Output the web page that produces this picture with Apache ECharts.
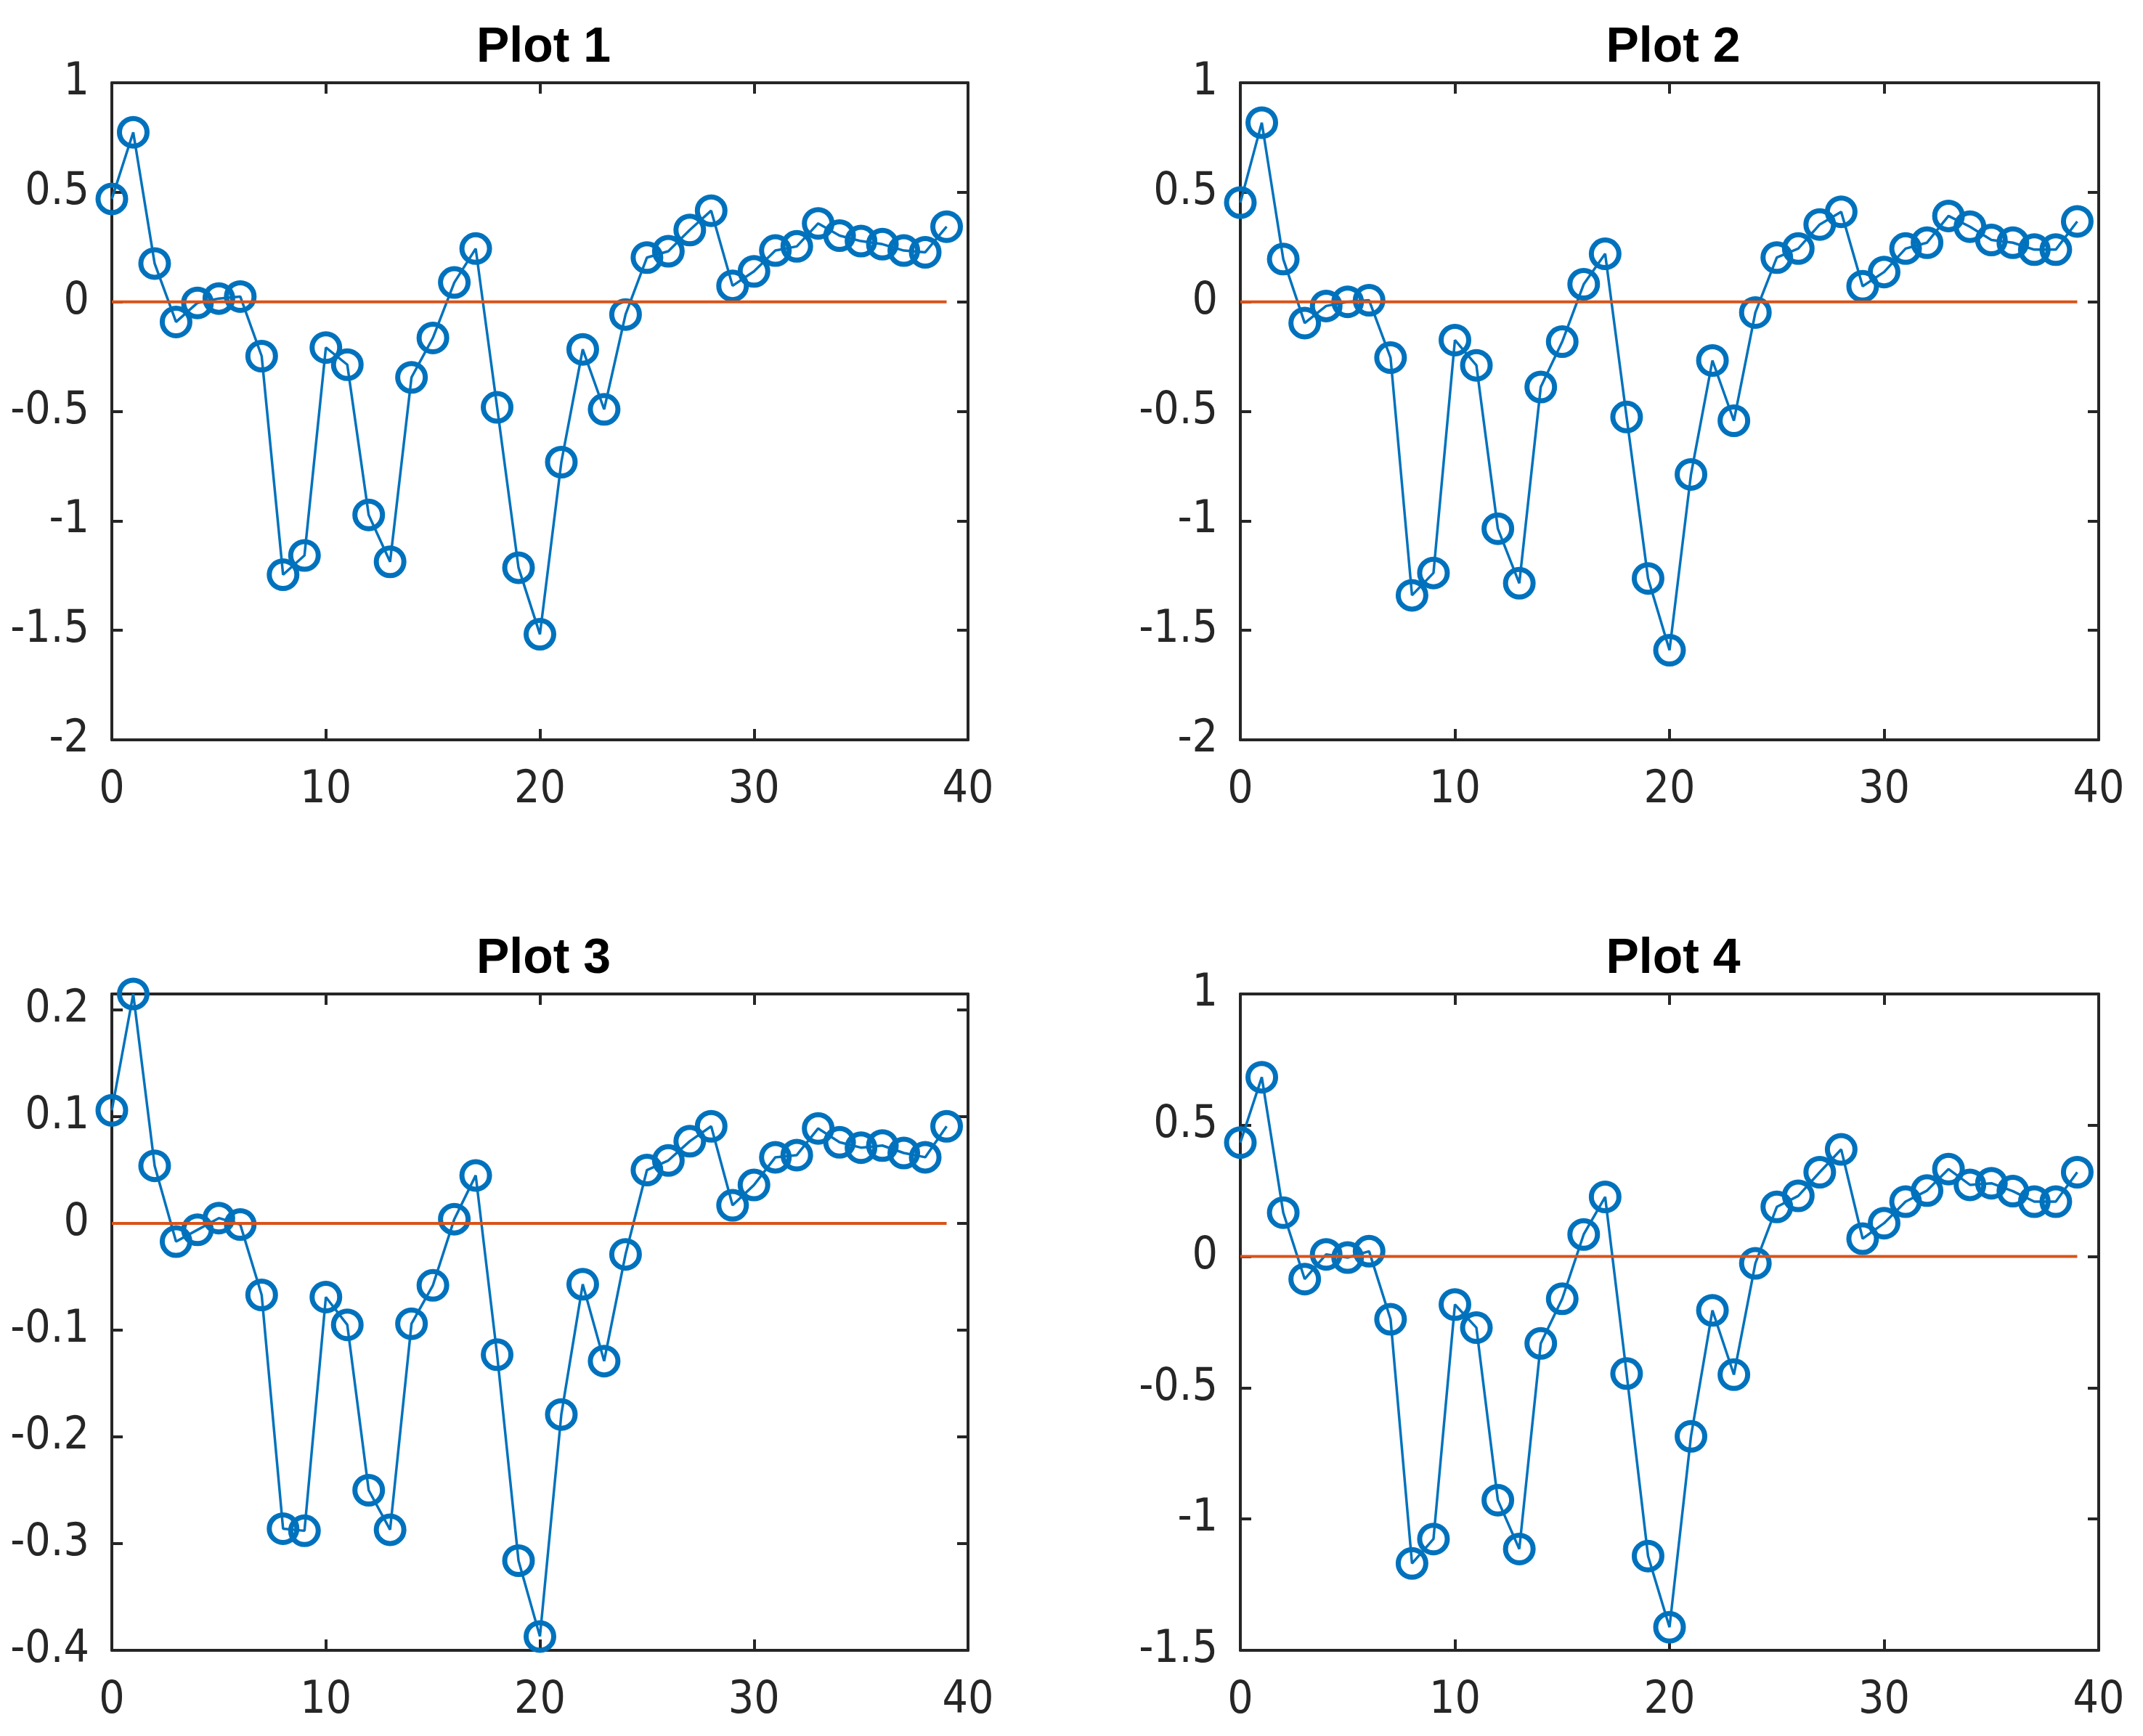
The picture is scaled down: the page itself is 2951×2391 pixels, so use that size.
<!DOCTYPE html>
<html>
<head>
<meta charset="utf-8">
<script src="https://cdn.jsdelivr.net/npm/echarts@6/dist/echarts.min.js"></script>
<style>
html,body{margin:0;padding:0;background:#fff;}
#chart{width:2951px;height:2391px;}
</style>
</head>
<body>
<div id="chart"></div>
<script>
const xIndex = [0,1,2,3,4,5,6,7,8,9,10,11,12,13,14,15,16,17,18,19,20,21,22,23,24,25,26,27,28,29,30,31,32,33,34,35,36,37,38,39];
const plot1 = [0.47,0.774,0.175,-0.092,-0.005,0.015,0.024,-0.248,-1.246,-1.158,-0.209,-0.287,-0.973,-1.187,-0.345,-0.165,0.088,0.243,-0.482,-1.214,-1.518,-0.732,-0.217,-0.491,-0.058,0.202,0.231,0.328,0.416,0.073,0.139,0.234,0.253,0.358,0.302,0.277,0.263,0.234,0.226,0.343];
const plot2 = [0.453,0.818,0.195,-0.097,-0.019,0.0,0.007,-0.255,-1.34,-1.238,-0.175,-0.29,-1.036,-1.285,-0.389,-0.182,0.08,0.219,-0.526,-1.263,-1.591,-0.788,-0.268,-0.543,-0.049,0.202,0.243,0.353,0.411,0.071,0.136,0.243,0.27,0.392,0.343,0.282,0.27,0.238,0.238,0.367];
const plot3 = [0.106,0.215,0.054,-0.017,-0.006,0.005,-0.001,-0.067,-0.286,-0.288,-0.069,-0.095,-0.25,-0.287,-0.094,-0.058,0.004,0.045,-0.123,-0.316,-0.387,-0.179,-0.057,-0.129,-0.029,0.05,0.059,0.077,0.091,0.017,0.036,0.062,0.064,0.089,0.076,0.071,0.073,0.066,0.062,0.091];
const plot4 = [0.434,0.683,0.167,-0.086,0.008,-0.004,0.02,-0.239,-1.169,-1.076,-0.183,-0.271,-0.928,-1.114,-0.331,-0.161,0.084,0.227,-0.446,-1.141,-1.412,-0.685,-0.205,-0.45,-0.026,0.189,0.231,0.321,0.408,0.068,0.127,0.209,0.251,0.333,0.273,0.279,0.249,0.209,0.209,0.321];
const refLineX = [0, 39];
const refLineY = [0, 0];
const titles = ['Plot 1', 'Plot 2', 'Plot 3', 'Plot 4'];
const xMin = 0, xMax = 40, xInterval = 10;
const yMins = [-2, -2, -0.4, -1.5];
const yMaxs = [1, 1, 0.215, 1];
const yIntervals = [0.5, 0.5, 0.1, 0.5];
const allSeries = [plot1, plot2, plot3, plot4];

const grids = [
  {left: 154, top: 114, width: 1179, height: 905},
  {left: 1708, top: 114, width: 1182, height: 905},
  {left: 154, top: 1369, width: 1179, height: 904},
  {left: 1708, top: 1369, width: 1182, height: 904}
];
const axisColor = '#262626';
const fontFam = '"Liberation Sans", Arial, Helvetica, sans-serif';
const tickFont = '"Liberation Sans Narrow", "DejaVu Sans Condensed", "Liberation Sans", Arial, sans-serif';

function fmt(interval) {
  return function (v) {
    const k = Math.round(v / interval);
    if (Math.abs(k * interval - v) > 1e-7) return '';
    return String(parseFloat((k * interval).toFixed(3)));
  };
}

const option = {
  animation: false,
  backgroundColor: '#ffffff',
  title: [],
  grid: [],
  xAxis: [],
  yAxis: [],
  series: []
};

for (let i = 0; i < 4; i++) {
  const g = grids[i];
  option.grid.push({left: g.left, top: g.top, width: g.width, height: g.height, containLabel: false});
  option.title.push({
    text: titles[i],
    left: g.left + g.width / 2,
    top: g.top - 87,
    textAlign: 'center',
    textStyle: {fontFamily: fontFam, fontWeight: 'bold', fontSize: 68, color: '#000000'}
  });
  const axLine = {show: true, onZero: false, lineStyle: {color: axisColor, width: 4}};
  const tick = {show: true, inside: true, length: 15, lineStyle: {color: axisColor, width: 4}};
  option.xAxis.push({
    type: 'value', gridIndex: i, position: 'bottom', min: xMin, max: xMax, interval: xInterval,
    axisLine: axLine, axisTick: tick, splitLine: {show: false},
    axisLabel: {show: true, fontFamily: tickFont, fontSize: 62, color: axisColor, margin: 39}
  });
  option.xAxis.push({
    type: 'value', gridIndex: i, position: 'top', min: xMin, max: xMax, interval: xInterval,
    axisLine: axLine, axisTick: tick, splitLine: {show: false}, axisLabel: {show: false}
  });
  option.yAxis.push({
    type: 'value', gridIndex: i, position: 'left', min: yMins[i], max: yMaxs[i], interval: yIntervals[i],
    axisLine: axLine, axisTick: tick, splitLine: {show: false},
    axisLabel: {show: true, fontFamily: tickFont, fontSize: 62, color: axisColor, margin: 31, formatter: fmt(yIntervals[i])}
  });
  option.yAxis.push({
    type: 'value', gridIndex: i, position: 'right', min: yMins[i], max: yMaxs[i], interval: yIntervals[i],
    axisLine: axLine, axisTick: tick, splitLine: {show: false}, axisLabel: {show: false}
  });
  option.series.push({
    type: 'line',
    xAxisIndex: i * 2, yAxisIndex: i * 2,
    data: xIndex.map((x, j) => [x, allSeries[i][j]]),
    symbol: 'circle', symbolSize: 38, showSymbol: true, clip: false,
    lineStyle: {color: '#0072BD', width: 3.5},
    itemStyle: {color: 'rgba(255,255,255,0)', borderColor: '#0072BD', borderWidth: 7},
    z: 2
  });
  option.series.push({
    type: 'line',
    xAxisIndex: i * 2, yAxisIndex: i * 2,
    data: refLineX.map((x, j) => [x, refLineY[j]]),
    symbol: 'none', showSymbol: false,
    lineStyle: {color: '#D95319', width: 4},
    z: 3
  });
}

const chart = echarts.init(document.getElementById('chart'), null, {renderer: 'canvas'});
chart.setOption(option);
</script>
</body>
</html>
